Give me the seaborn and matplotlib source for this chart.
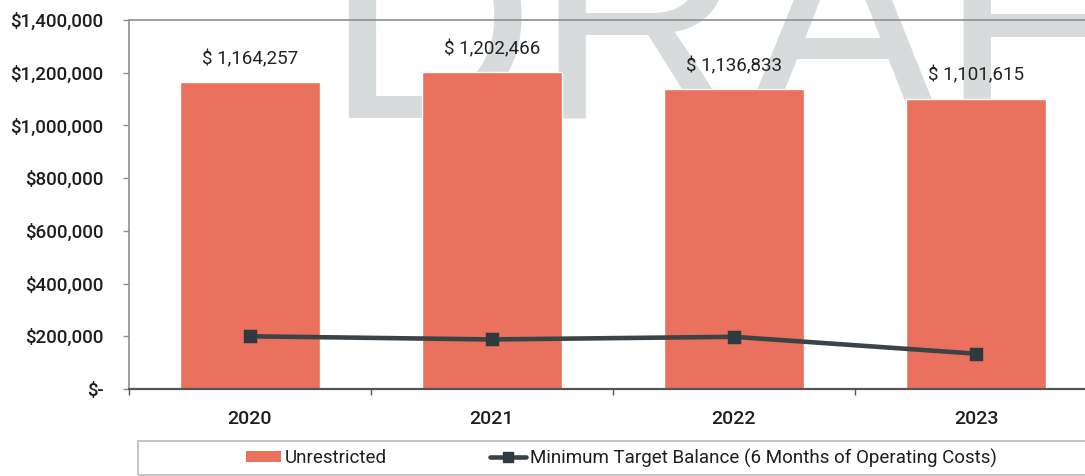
import matplotlib
matplotlib.use("Agg")
import matplotlib.pyplot as plt
from matplotlib.ticker import FuncFormatter, FixedLocator
from matplotlib.patches import Rectangle, Patch
from matplotlib.lines import Line2D
import seaborn as sns
import pandas as pd

# Fiscal years and balances
years = ["2020", "2021", "2022", "2023"]
unrestricted = [1164257, 1202466, 1136833, 1101615]
min_target = [200000, 188000, 198000, 134000]
y_ticks = [0, 200000, 400000, 600000, 800000, 1000000, 1200000, 1400000]

series_bar = "Unrestricted"
series_line = "Minimum Target Balance (6 Months of Operating Costs)"

BAR_COLOR = "#E9715E"
LINE_COLOR = "#3C4347"
MARKER_COLOR = "#2E3A3F"

sns.set_theme(style="white")
plt.rcParams["font.family"] = ["Roboto", "DejaVu Sans"]

df = pd.DataFrame({"year": years, "unrestricted": unrestricted, "target": min_target})

W, H = 1085, 476
fig = plt.figure(figsize=(W / 100, H / 100), dpi=100)
fig.patch.set_facecolor("white")

# Watermark behind the plot
fig.text(324 / W, 1 - 118 / H, "DRAFT", fontsize=210, family="Liberation Sans",
         color="#d7dbdb", ha="left", va="baseline", zorder=-5)

ax = fig.add_axes([129 / W, 87 / H, 968 / W, 369 / H])
ax.patch.set_alpha(0)

sns.barplot(data=df, x="year", y="unrestricted", color=BAR_COLOR, saturation=1,
            width=0.58, ax=ax, zorder=2)
sns.pointplot(data=df, x="year", y="target", color=LINE_COLOR, markers="s",
              markersize=7, linewidth=3.3, errorbar=None, ax=ax, zorder=4)
for ln in ax.lines:
    ln.set_markerfacecolor(MARKER_COLOR)
    ln.set_markeredgecolor(MARKER_COLOR)

# Value labels above bars
for i, v in enumerate(unrestricted):
    ax.annotate(f"$ {v:,.0f}", (i, v), xytext=(0, 10), textcoords="offset points",
                ha="center", va="bottom", fontsize=13.5, color="#222222", zorder=5)

ax.set_xlim(-0.5, 3.5)
ax.set_ylim(0, 1400000)
ax.set_xlabel("")
ax.set_ylabel("")

ax.yaxis.set_major_locator(FixedLocator(y_ticks))
ax.yaxis.set_major_formatter(FuncFormatter(lambda v, p: "$-" if v == 0 else f"${v:,.0f}"))
ax.tick_params(axis="y", left=True, length=4.3, width=1, color="#8f8f8f",
               pad=14, labelsize=13.5, labelcolor="#1e1e1e")
for lab in ax.get_yticklabels():
    lab.set_fontweight("medium")

ax.set_xticks(range(len(years)))
ax.set_xticklabels(years)
ax.set_xticks([-0.5, 0.5, 1.5, 2.5, 3.5], minor=True)
ax.tick_params(axis="x", which="major", length=0, pad=15, labelsize=14, labelcolor="#1e1e1e")
ax.tick_params(axis="x", which="minor", bottom=True, length=4.3, width=1, color="#555555")
for lab in ax.get_xticklabels():
    lab.set_fontweight("medium")

for side in ["left", "top"]:
    ax.spines[side].set_color("#8f8f8f")
    ax.spines[side].set_linewidth(1.2)
ax.spines["bottom"].set_color("#555555")
ax.spines["bottom"].set_linewidth(1.6)
ax.spines["right"].set_visible(False)

# Legend box along the bottom
fig.patches.append(Rectangle((138 / W, 1 - 475 / H), 1.0, (475 - 441) / H,
                             transform=fig.transFigure, facecolor="none",
                             edgecolor="#c4c4c4", linewidth=1.4, zorder=1))
handles = [Patch(facecolor=BAR_COLOR, edgecolor="none"),
           Line2D([], [], color=LINE_COLOR, linewidth=3.3, marker="s", markersize=7,
                  markerfacecolor=MARKER_COLOR, markeredgecolor=MARKER_COLOR)]
fig.legend(handles, [series_bar, series_line], loc="center",
           bbox_to_anchor=(621 / W, 1 - 458 / H), ncol=2, frameon=False,
           fontsize=13.5, handlelength=1.9, handleheight=0.5, handletextpad=0.2,
           columnspacing=5.5, labelcolor="#1e1e1e")

fig.savefig("out.png", dpi=100, facecolor="white")
